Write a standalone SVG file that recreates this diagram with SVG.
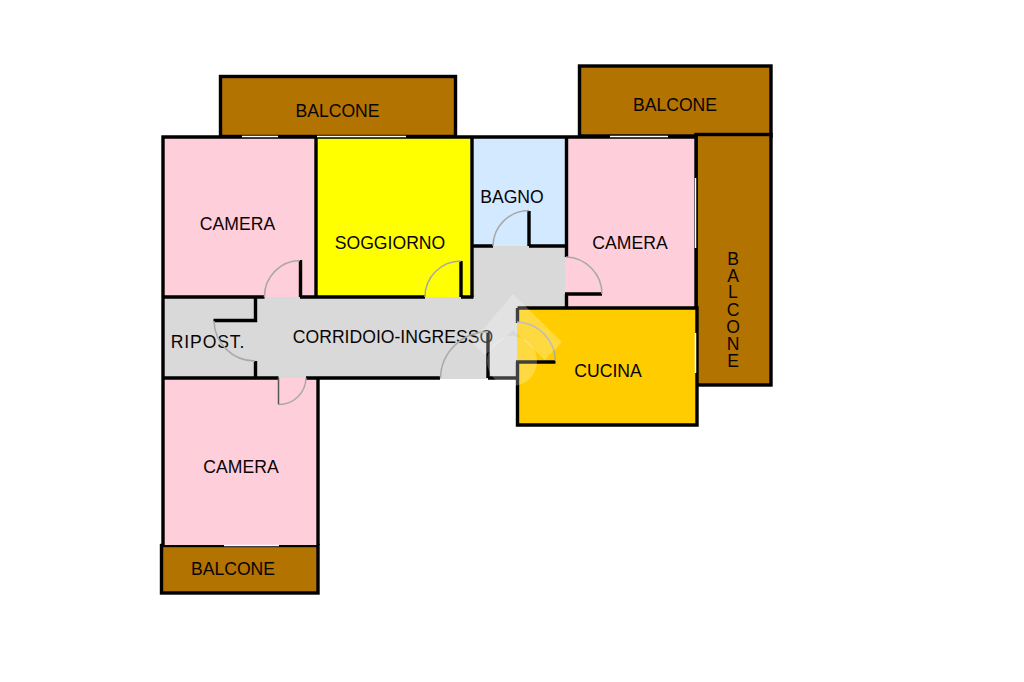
<svg xmlns="http://www.w3.org/2000/svg" width="1024" height="682" viewBox="0 0 1024 682">
<style>
text{font-family:"Liberation Sans",Arial,sans-serif;font-size:17.6px;fill:#0a0505;text-anchor:middle}
.w{fill:none;stroke:#000;stroke-width:3.4}
.bf{fill:#b27300;stroke:#000;stroke-width:3.4}
.win{fill:none;stroke:#fff;stroke-width:1.5}
.a{fill:none;stroke:#a8a8a8;stroke-width:1.5}
.pink{fill:#ffcedb}.grey{fill:#d9d9d9}
</style>
<rect width="1024" height="682" fill="#fff"/>
<g id="balcone-1"><rect class="bf" x="220.500" y="76.500" width="235" height="60"/><text x="337.500" y="116.500">BALCONE</text></g>
<g id="balcone-2"><rect class="bf" x="579.500" y="66" width="191.500" height="70"/><text x="675" y="110.500">BALCONE</text></g>
<g id="balcone-3"><rect class="bf" x="696" y="134.500" width="75" height="250.500"/>
<text x="733" y="265"><tspan x="733" y="265">B</tspan><tspan x="733" y="282">A</tspan><tspan x="733" y="298">L</tspan><tspan x="733" y="316">C</tspan><tspan x="733" y="333">O</tspan><tspan x="733" y="350">N</tspan><tspan x="733" y="367">E</tspan></text></g>
<g id="balcone-4"><rect class="bf" x="161.500" y="545.500" width="156.500" height="47.500"/><text x="233" y="574.500">BALCONE</text></g>
<g id="corridoio"><path class="grey" d="M256 297H472V246H566V308H517V379H256Z"/><text x="393" y="342.500">CORRIDOIO-INGRESSO</text></g>
<g id="ripostiglio"><rect class="grey" x="163" y="297" width="93" height="81"/><text x="208" y="347.500" letter-spacing=".9">RIPOST.</text></g>
<g id="camera-1"><rect class="pink" x="163" y="137" width="153" height="160"/><text x="237.500" y="229.500">CAMERA</text></g>
<g id="soggiorno"><rect x="316" y="137" width="156" height="160" fill="#ff0"/><text x="390" y="248.500">SOGGIORNO</text></g>
<g id="bagno"><rect x="472" y="137" width="95" height="109" fill="#d2e9ff"/><text x="512" y="202.500">BAGNO</text></g>
<g id="camera-2"><rect class="pink" x="565" y="137" width="131" height="171"/><text x="630" y="248.500">CAMERA</text></g>
<g id="cucina"><rect x="517" y="308" width="180" height="117" fill="#fc0"/><text x="608" y="376.500">CUCINA</text></g>
<g id="camera-3"><path class="pink" d="M163 378H318V545H163Z"/><text x="241" y="472.500">CAMERA</text></g>
<g id="walls">
<path class="w" d="M161.500 137H696M163 135.500V545"/>
<path class="w" d="M316 137V297M472 137V297M566.500 137V257M566.500 294V308M696 134V308"/>
<path class="w" d="M163 297H264.500M300 297H425M461 297H473.500M472 246H493M529 246H567"/>
<path class="w" d="M300.500 260V297M461 261V297M529 211V246M565 294H602"/>
<path class="w" d="M255.500 297V320.500H213.500M255.500 361V378"/>
<path class="w" d="M163 378H278.500M306 378H440M488 378H518M488 332V378"/>
<path class="w" d="M318 378V545"/>
<path class="w" d="M517.500 308H697V425H517.500V362M517.500 323V308M516 362H555.500"/>
<path d="M278.500 378V404.500" stroke="#555" stroke-width="1.500" fill="none"/>
</g>
<g id="door-arcs">
<path class="a" d="M300 260.500A36 36 0 0 0 264.500 297"/>
<path class="a" d="M214 321A41 41 0 0 0 255 361"/>
<path class="a" d="M279 404.500A27 27 0 0 0 306 378"/>
<path class="a" d="M461 261A36 36 0 0 0 425 297"/>
<path class="a" d="M529 210.500A36 36 0 0 0 493 246"/>
<path class="a" d="M566 257A37 37 0 0 1 602 294"/>
<path class="a" d="M517 322A40 40 0 0 1 555.500 361"/>
<path class="a" d="M488 332A47 47 0 0 0 440.500 378"/>
</g>
<g id="windows">
<path class="win" d="M242 136.500H278M317 136.500H406M610 136.500H668M224 545.500H279M695.500 178V248M695.500 333V373"/>
</g>
<g id="watermark" fill="#fff" fill-opacity=".25">
<path d="M513 294L562 342L545 360L513 330L485 355L472 342Z"/>
<circle cx="512" cy="361" r="25"/>
</g>
</svg>
